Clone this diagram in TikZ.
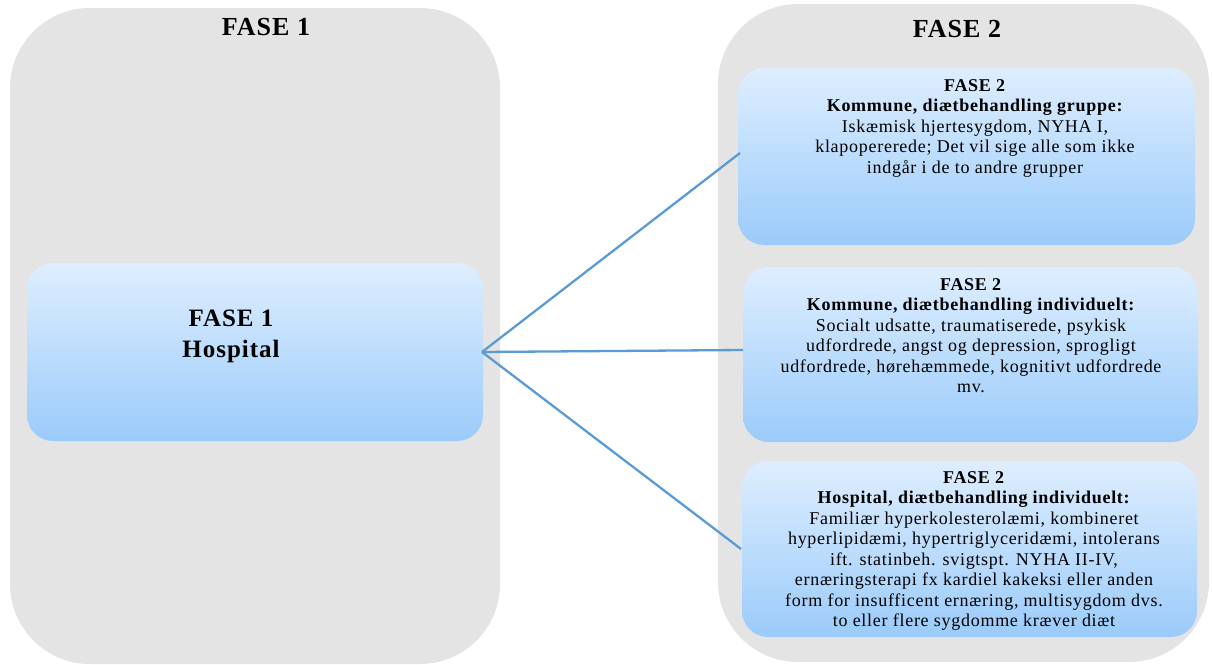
\documentclass[tikz,border=0pt]{standalone}
\usepackage{fontspec}
\setmainfont{Liberation Serif}[LetterSpace=4]
\definecolor{panelgray}{RGB}{228,228,228}
\definecolor{boxtop}{RGB}{222,238,255}
\definecolor{boxbot}{RGB}{155,203,250}
\definecolor{linkblue}{RGB}{91,155,213}
\tikzset{
  panel/.style={fill=panelgray, draw=none, rounded corners=80pt},
  bluebox/.style={draw=none, rounded corners=26pt, top color=boxtop, bottom color=boxbot},
  title/.style={font=\fontsize{26}{30}\selectfont\bfseries, anchor=base, inner sep=0pt},
  boxtext/.style={font=\fontsize{18}{20.5}\selectfont, align=center, anchor=north, inner sep=0pt},
  link/.style={draw=linkblue, line width=2.3pt}
}
\begin{document}
\begin{tikzpicture}[x=1pt,y=-1pt]
\useasboundingbox (0,0) rectangle (1212,664);
% panels
\path[panel] (10,8) rectangle (500,664);
\path[panel] (718,4) rectangle (1209,662);
\node[title] (t1) at (266,35) {FASE 1};
\node[title] (t2) at (957,37) {FASE 2};
% boxes
\path[bluebox] (27,263) rectangle (483,441);
\coordinate (hosp) at (482,352);
\node[font=\fontsize{25}{31}\selectfont\bfseries, align=center, inner sep=0pt, anchor=base] (hosptext) at (231,357) {FASE 1\\Hospital};
\path[bluebox] (738,68) rectangle (1195,245);
\path[bluebox] (743,267) rectangle (1198,442);
\path[bluebox] (742,461) rectangle (1197,637);
\coordinate (b1) at (740,153);
\coordinate (b2) at (743,350);
\coordinate (b3) at (741,549);
\node[boxtext] (txt1) at (975,79) {\textbf{FASE 2}\\\textbf{Kommune, diætbehandling gruppe:}\\Iskæmisk hjertesygdom, NYHA I,\\klapopererede; Det vil sige alle som ikke\\indgår i de to andre grupper};
\node[boxtext] (txt2) at (971,278) {\textbf{FASE 2}\\\textbf{Kommune, diætbehandling individuelt:}\\Socialt udsatte, traumatiserede, psykisk\\udfordrede, angst og depression, sprogligt\\udfordrede, hørehæmmede, kognitivt udfordrede\\mv.};
\node[boxtext] (txt3) at (974,471) {\textbf{FASE 2}\\\textbf{Hospital, diætbehandling individuelt:}\\Familiær hyperkolesterolæmi, kombineret\\hyperlipidæmi, hypertriglyceridæmi, intolerans\\ift. statinbeh. svigtspt. NYHA II-IV,\\ernæringsterapi fx kardiel kakeksi eller anden\\form for insufficent ernæring, multisygdom dvs.\\to eller flere sygdomme kræver diæt};
% connectors
\draw[link] (hosp) -- (b1);
\draw[link] (hosp) -- (b2);
\draw[link] (hosp) -- (b3);
\end{tikzpicture}
\end{document}
